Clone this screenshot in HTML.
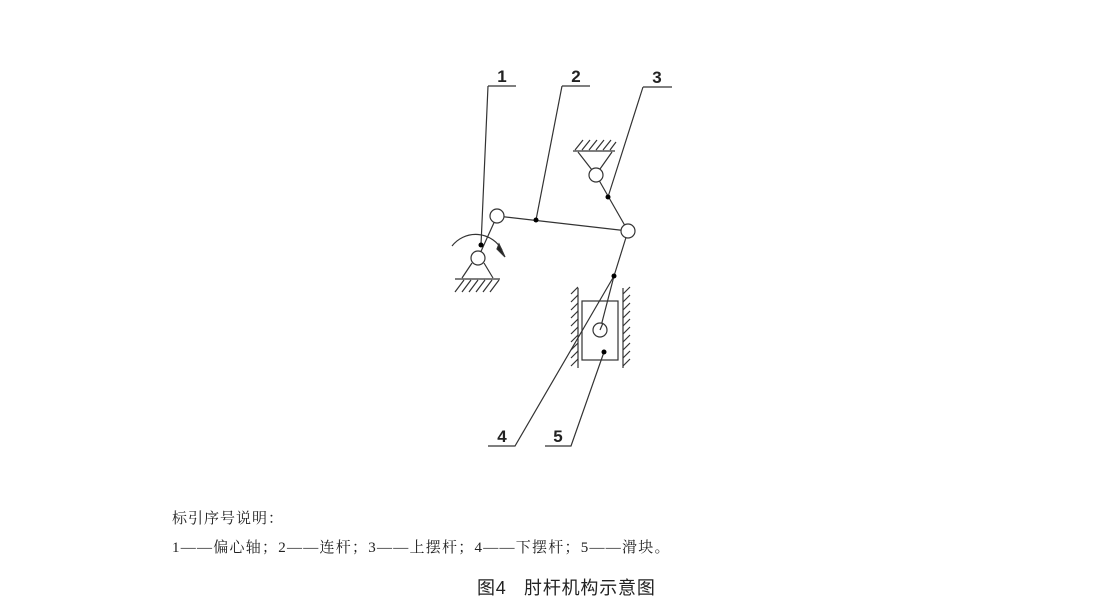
<!DOCTYPE html>
<html><head><meta charset="utf-8"><style>
body{margin:0;width:1110px;height:611px;background:#fff;overflow:hidden;position:relative;font-family:"Liberation Serif","Noto Serif CJK SC",serif;}
.t{position:absolute;color:#222;font-size:15px;white-space:nowrap}
</style></head><body>
<svg width="1110" height="611" style="position:absolute;left:0;top:0" stroke="#333" stroke-width="1.2" fill="none">
<path d="M488 86H516M488 86L481 245"/>
<path d="M562 86H590M562 86L536 220"/>
<path d="M643 87H672M643 87L608 197"/>
<path d="M488 446H515L614 276"/>
<path d="M545 446H571L604 352"/>
<path d="M573 151H615"/>
<path d="M575 150l8-10M582 150l8-10M589 150l8-10M596 150l8-10M603 150l8-10M610 150l6-8"/>
<path d="M578 152L592 170M612 152L600 169"/>
<path d="M455 279H500"/>
<path d="M455 292l9-12M462 292l9-12M469 292l9-12M476 292l9-12M483 292l9-12M490 292l9-12"/>
<path d="M462 278L472 263M493 278L484 263"/>
<path d="M478 258L497 216L628 231L596 175M628 231L614 276L600 330"/>
<path d="M452 246 A30 30 0 0 1 502 250"/>
<path d="M499 244L505 257L497 249Z" fill="#222"/>
<rect x="582" y="301" width="36" height="59"/>
<path d="M578 288V368M623 288V368"/>
<path d="M571 294l7-7M571 302l7-7M571 310l7-7M571 318l7-7M571 326l7-7M571 334l7-7M571 342l7-7M571 350l7-7M571 358l7-7M571 366l7-7"/>
<path d="M623 294l7-7M623 302l7-7M623 310l7-7M623 318l7-7M623 326l7-7M623 334l7-7M623 342l7-7M623 350l7-7M623 358l7-7M623 366l7-7"/>
<g fill="#fff">
<circle cx="596" cy="175" r="7"/><circle cx="497" cy="216" r="7"/><circle cx="628" cy="231" r="7"/><circle cx="478" cy="258" r="7"/><circle cx="600" cy="330" r="7"/>
</g>
<path d="M600 330L603 323"/>
<g fill="#000" stroke="none">
<circle cx="481" cy="245" r="2.5"/><circle cx="536" cy="220" r="2.5"/><circle cx="608" cy="197" r="2.5"/><circle cx="614" cy="276" r="2.5"/><circle cx="604" cy="352" r="2.5"/>
</g>
<g font-family="Liberation Sans Narrow,Liberation Sans,sans-serif" font-weight="bold" font-size="17" fill="#222" stroke="none" text-anchor="middle">
<text x="502" y="82">1</text><text x="576" y="82">2</text><text x="657" y="83">3</text><text x="502" y="442">4</text><text x="558" y="442">5</text>
</g>
</svg>
<div class="t" style="left:172px;top:507px;letter-spacing:1px">标引序号说明：</div>
<div class="t" style="left:172px;top:536px;letter-spacing:1.25px">1——偏心轴；2——连杆；3——上摆杆；4——下摆杆；5——滑块。</div>
<div class="t" style="left:477px;top:574px;font-size:18px;letter-spacing:0.8px;font-family:'Liberation Sans','Noto Sans CJK SC',sans-serif">图4&nbsp;&nbsp;&nbsp;肘杆机构示意图</div>
</body></html>
